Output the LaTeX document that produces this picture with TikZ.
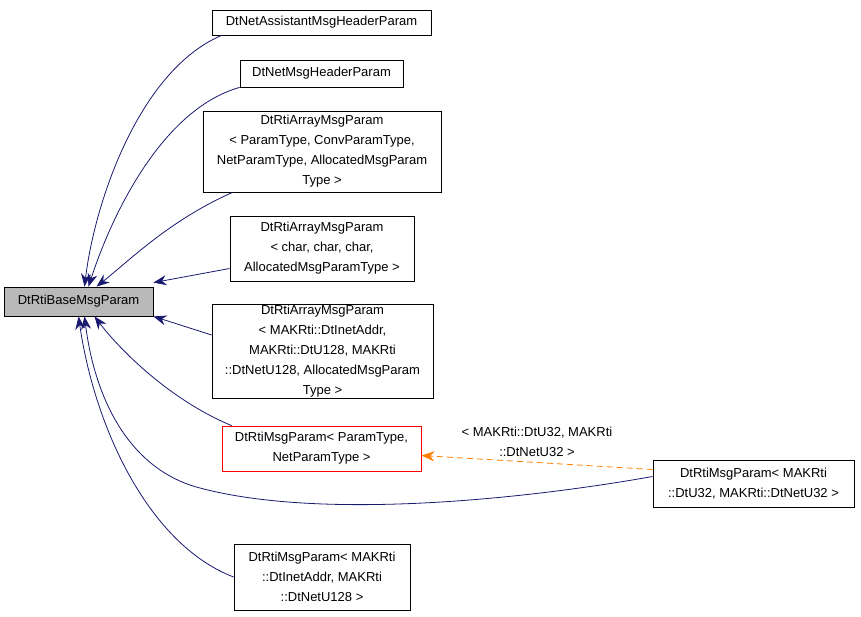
\documentclass[tikz,border=0pt]{standalone}
\usepackage{fontspec}
\setmainfont{Liberation Sans}
\usetikzlibrary{arrows.meta}
\tikzstyle{cls}=[rectangle, draw, fill=white, inner sep=0pt, align=center, font=\fontsize{13}{20}\selectfont]
\tikzstyle{edge}=[draw={rgb,255:red,25;green,25;blue,112}, -{Stealth[length=13pt,width=10pt]}]
\tikzstyle{tmpl}=[draw=orange, dash pattern=on 6pt off 4pt, -{Stealth[length=13pt,width=10pt]}]
\begin{document}
\begin{tikzpicture}[x=1pt, y=-1pt, thick]
                    \useasboundingbox (0,0) rectangle (861,616);
                    \node[cls, fill=gray!55, minimum width=149pt, minimum height=29pt] (base) at (78.5,301.5) {DtRtiBaseMsgParam};
                    \node[cls, minimum width=219pt, minimum height=25pt] (a) at (321.5,22.5) {DtNetAssistantMsgHeaderParam};
                    \node[cls, minimum width=163pt, minimum height=27pt] (b) at (321.5,73.5) {DtNetMsgHeaderParam};
                    \node[cls, minimum width=238pt, minimum height=81pt] (c) at (322,151.5) {DtRtiArrayMsgParam\\< ParamType, ConvParamType,\\ NetParamType, AllocatedMsgParam\\Type >};
                    \node[cls, minimum width=184pt, minimum height=65pt] (d) at (322,248.5) {DtRtiArrayMsgParam\\< char, char, char,\\ AllocatedMsgParamType >};
                    \node[cls, minimum width=221pt, minimum height=94pt] (e) at (322.5,351) {DtRtiArrayMsgParam\\< MAKRti::DtInetAddr,\\ MAKRti::DtU128, MAKRti\\::DtNetU128, AllocatedMsgParam\\Type >};
                    \node[cls, draw=red, minimum width=199pt, minimum height=45pt] (f) at (321.5,448.5) {DtRtiMsgParam< ParamType,\\ NetParamType >};
                    \node[cls, minimum width=201pt, minimum height=47pt] (g) at (753.5,483.5) {DtRtiMsgParam< MAKRti\\::DtU32, MAKRti::DtNetU32 >};
                    \node[cls, minimum width=176pt, minimum height=66pt] (h) at (322,577) {DtRtiMsgParam< MAKRti\\::DtInetAddr, MAKRti\\::DtNetU128 >};
                    \draw[edge] ([xshift=10pt]a.south west) .. controls (140,70) and (95,200) .. ([xshift=6pt]base.north);
                    \draw[edge] (b.south west) .. controls (160,110) and (110,220) .. ([xshift=10pt]base.north);
                    \draw[edge] ([xshift=30pt]c.south west) .. controls (170,220) and (130,260) .. ([xshift=18pt]base.north);
                    \draw[edge] ([yshift=-20pt]d.west) -- ([yshift=4pt]base.north east);
                    \draw[edge] ([yshift=16pt]e.west) -- (base.south east);
                    \draw[edge] ([xshift=10pt]f.north west) .. controls (170,400) and (120,350) .. ([xshift=16pt]base.south);
                    \draw[edge] ([yshift=7pt]g.west) .. controls (520,500) and (320,520) .. (200,488) .. controls (130,470) and (95,400) .. ([xshift=6pt]base.south);
                    \draw[edge] (h.west) .. controls (150,545) and (95,430) .. (base.south);
                    \draw[tmpl] ([yshift=14pt]g.west) -- node[above, align=center, font=\fontsize{13}{20}\selectfont, yshift=2pt] {< MAKRti::DtU32, MAKRti\\::DtNetU32 >} ([yshift=-7pt]f.east);
                \end{tikzpicture}
\end{document}
